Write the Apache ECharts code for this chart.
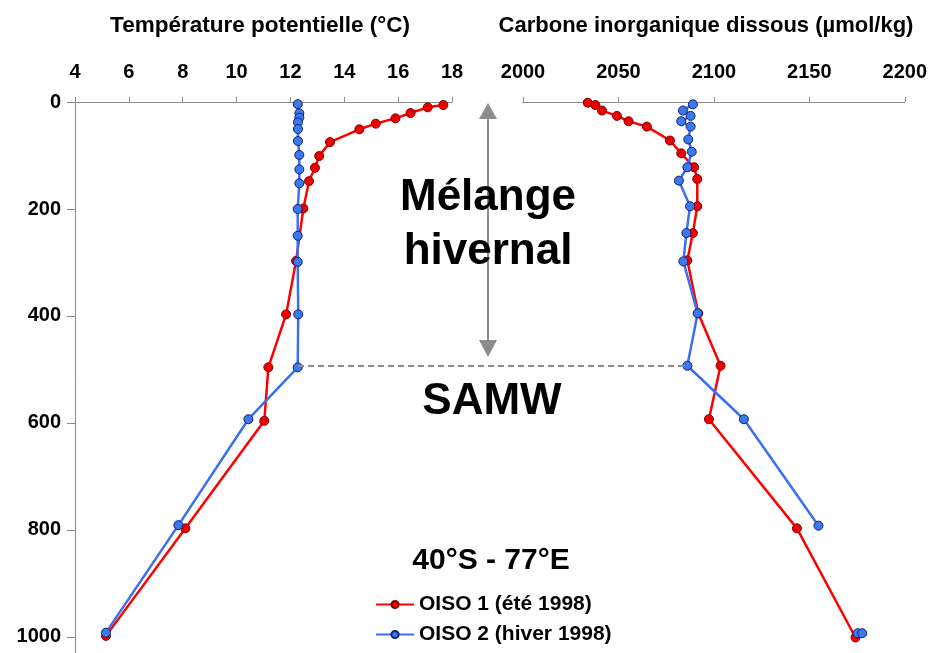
<!DOCTYPE html>
<html><head><meta charset="utf-8">
<script src="https://cdn.jsdelivr.net/npm/echarts@6/dist/echarts.min.js"></script>
<style>html,body{margin:0;padding:0;background:#fff}#c{width:930px;height:653px}</style>
</head><body><div id="c"></div>
<script>
// ---- data ----
var tempTicks = [4, 6, 8, 10, 12, 14, 16, 18];
var dicTicks = [2000, 2050, 2100, 2150, 2200];
var depthTicks = [0, 200, 400, 600, 800, 1000];

var seriesNames = ['OISO 1 (été 1998)', 'OISO 2 (hiver 1998)'];

// Potential temperature, OISO 1 (summer)
var tempDepth1 = [5.6, 10, 20.6, 30.5, 40.5, 51, 75, 101, 123, 148, 199, 297, 397, 496, 596, 797, 998];
var temp1 = [17.68, 17.1, 16.46, 15.9, 15.17, 14.56, 13.47, 13.07, 12.91, 12.69, 12.48, 12.21, 11.84, 11.18, 11.03, 8.10, 5.15];
// Potential temperature, OISO 2 (winter)
var tempDepth2 = [4, 21, 29.3, 38, 50.5, 73, 99, 126, 152, 200, 250, 299, 397, 496, 593, 791, 992];
var temp2 = [12.27, 12.33, 12.33, 12.28, 12.28, 12.28, 12.33, 12.33, 12.33, 12.27, 12.27, 12.27, 12.29, 12.27, 10.44, 7.84, 5.15];

// DIC, OISO 1
var dicDepth1 = [1.3, 5.6, 16, 26, 36, 46, 72, 96, 122, 144, 195, 245, 296, 395, 493, 593, 797, 1001];
var dic1 = [2033.9, 2037.9, 2041.4, 2049.2, 2055.3, 2064.9, 2077.0, 2082.9, 2089.6, 2091.3, 2091.3, 2089.0, 2086.1, 2091.8, 2103.5, 2097.4, 2143.5, 2174.2];
// DIC, OISO 2 (null = break in the line)
var dicDepth2 = [4.4, 16, 26, 36, 46, 70, 93, 122, 147, 195, 245, 298, 395, 493, 593, 792, null, 993, 993];
var dic2 = [2089.0, 2083.8, 2087.8, 2082.9, 2087.8, 2086.6, 2088.4, 2086.1, 2081.7, 2087.5, 2085.6, 2084.0, 2091.5, 2086.1, 2115.7, 2154.8, null, 2175.3, 2177.7];

function pairs(xs, ys) {
  return xs.map(function (x, i) {
    return (x === null || ys[i] === null) ? ['-', '-'] : [x, ys[i]];
  });
}

var FONT = '"Liberation Sans", Arial, sans-serif';
var RED = '#ff0000', BLUE = '#3a6ff5';
var axisGray = '#8a8a8a';

function lineSeries(name, color, border, data, idx) {
  return {
    name: name, type: 'line', xAxisIndex: idx, yAxisIndex: idx,
    data: data, symbol: 'circle', symbolSize: 9, connectNulls: false,
    lineStyle: { color: color, width: 2.5 },
    itemStyle: { color: color === RED ? '#ee0000' : '#3c78ee', borderColor: border, borderWidth: 1 },
    emphasis: { disabled: true }, animation: false, z: name === seriesNames[1] ? 3 : 2
  };
}

function xAx(idx, min, max, interval) {
  return {
    type: 'value', gridIndex: idx, position: 'top', min: min, max: max, interval: interval,
    axisLine: { show: true, lineStyle: { color: axisGray, width: 1 } },
    axisTick: { show: true, length: 5, lineStyle: { color: axisGray } },
    axisLabel: { fontFamily: FONT, fontWeight: 'bold', fontSize: 20, color: '#000', margin: 20,
      formatter: function (v) { return String(v); } },
    splitLine: { show: false }
  };
}
function yAx(idx, show) {
  return {
    type: 'value', gridIndex: idx, inverse: true, min: 0, max: 1030, interval: 200,
    show: show,
    axisLine: { show: true, lineStyle: { color: axisGray, width: 1 } },
    axisTick: { show: true, length: 8, lineStyle: { color: axisGray } },
    axisLabel: {
      fontFamily: FONT, fontWeight: 'bold', fontSize: 20, color: '#000', margin: 14,
      formatter: function (v) { return depthTicks.indexOf(v) >= 0 ? String(v) : ''; }
    },
    splitLine: { show: false }
  };
}
function legendFor(name, top) {
  return {
    data: [name], orient: 'horizontal', left: 375, top: top, padding: 0,
    itemWidth: 38, itemHeight: 9, itemGap: 5,
    textStyle: { fontFamily: FONT, fontWeight: 'bold', fontSize: 21, color: '#000' }
  };
}

var chart = echarts.init(document.getElementById('c'), null, { renderer: 'canvas' });
var txt = function (x, y, s, size) {
  return { type: 'text', x: x, y: y, silent: true, z: 10,
    style: { text: s, fontFamily: FONT, fontWeight: 'bold', fontSize: size, fill: '#000', textAlign: 'center', textVerticalAlign: 'middle' } };
};
chart.setOption({
  backgroundColor: '#fff',
  animation: false,
  grid: [
    { left: 75, right: 478, top: 102, bottom: 0 },
    { left: 523, right: 23, top: 102, bottom: 0 }
  ],
  xAxis: [xAx(0, tempTicks[0], tempTicks[tempTicks.length - 1], 2), xAx(1, dicTicks[0], dicTicks[dicTicks.length - 1], 50)],
  yAxis: [yAx(0, true), yAx(1, false)],
  legend: [legendFor(seriesNames[0], 594), legendFor(seriesNames[1], 624)],
  series: [
    lineSeries(seriesNames[0], RED, '#800000', pairs(temp1, tempDepth1), 0),
    lineSeries(seriesNames[1], BLUE, '#102070', pairs(temp2, tempDepth2), 0),
    lineSeries(seriesNames[0], RED, '#800000', pairs(dic1, dicDepth1), 1),
    lineSeries(seriesNames[1], BLUE, '#102070', pairs(dic2, dicDepth2), 1)
  ],
  graphic: [
    txt(260, 26, 'Température potentielle (°C)', 22.5),
    txt(706, 26, 'Carbone inorganique dissous (µmol/kg)', 22),
    { type: 'line', silent: true, z: 5, shape: { x1: 488, y1: 117, x2: 488, y2: 341 }, style: { stroke: '#8c8c8c', lineWidth: 2 } },
    { type: 'polygon', silent: true, z: 5, shape: { points: [[488, 103], [479, 119], [497, 119]] }, style: { fill: '#8c8c8c' } },
    { type: 'polygon', silent: true, z: 5, shape: { points: [[488, 357], [479, 340], [497, 340]] }, style: { fill: '#8c8c8c' } },
    { type: 'line', silent: true, z: 5, shape: { x1: 298, y1: 366, x2: 688, y2: 366 }, style: { stroke: '#8c8c8c', lineWidth: 2, lineDash: [6, 4] } },
    txt(488, 198, 'Mélange', 44),
    txt(488, 252, 'hivernal', 44),
    txt(492, 402, 'SAMW', 44),
    txt(491, 561, '40°S - 77°E', 30)
  ]
});
</script></body></html>
